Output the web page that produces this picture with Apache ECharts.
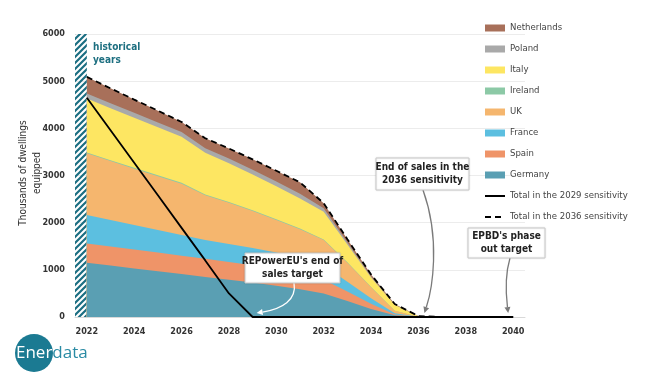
<!DOCTYPE html>
<html><head><meta charset="utf-8">
<script src="https://cdn.jsdelivr.net/npm/echarts@6/dist/echarts.min.js"></script>
<style>html,body{margin:0;padding:0;background:#fff}#c{width:650px;height:376px}</style>
</head><body><div id="c"></div>
<script>
const years = [2022,2023,2024,2025,2026,2027,2028,2029,2030,2031,2032,2033,2034,2035,2036,2037,2038,2039,2040];
const xTickLabels = [2022,2024,2026,2028,2030,2032,2034,2036,2038,2040];
const germany     = [1150,1090,1030,970,910,850,790,730,660,590,500,340,170,35,0,0,0,0,0];
const spain       = [410,405,400,395,390,385,375,365,350,330,290,200,110,20,0,0,0,0,0];
const france      = [600,560,520,480,440,400,385,370,355,340,300,210,120,25,3,0,0,0,0];
const uk          = [1310,1250,1195,1140,1085,945,870,780,690,600,540,400,230,50,3,0,0,0,0];
const ireland     = [20,20,20,20,20,18,18,17,16,15,14,10,6,2,0,0,0,0,0];
const italy       = [1140,1100,1058,1016,975,882,820,760,700,640,590,375,199,120,10,0,0,0,0];
const poland      = [110,108,106,104,100,100,100,100,100,100,70,45,25,8,2,0,0,0,0];
const netherlands = [350,315,280,250,215,210,215,220,230,240,110,70,40,15,2,0,0,0,0];
const total2029   = [4650,3960,3270,2580,1890,1200,500,0,0,0,0,0,0,0,0,0,0,0,0];
const total2036   = [5090,4848,4609,4375,4135,3790,3573,3342,3101,2855,2414,1650,900,275,20,0,0,0,0];

const FONT = '"Liberation Sans Narrow","DejaVu Sans Condensed","Liberation Sans",sans-serif';
const chart = echarts.init(document.getElementById('c'), null, {renderer:'canvas'});

function hatch(){
  const c=document.createElement('canvas'); c.width=6; c.height=6;
  const g=c.getContext('2d'); g.strokeStyle='#1b6e82'; g.lineWidth=2.2; g.beginPath();
  g.moveTo(0,6); g.lineTo(6,0); g.moveTo(-1,1); g.lineTo(1,-1); g.moveTo(5,7); g.lineTo(7,5); g.stroke();
  return c;
}
// layers from bottom to top; each area is filled from 0 up to its cumulative top,
// drawn top layer first so the lower ones cover it
const layers = [
  {name:'Germany', values:germany, color:'#5a9fb3'},
  {name:'Spain', values:spain, color:'#ef9468'},
  {name:'France', values:france, color:'#5cbfe0'},
  {name:'UK', values:uk, color:'#f5b66e'},
  {name:'Ireland', values:ireland, color:'#8cc9a6'},
  {name:'Italy', values:italy, color:'#fde662'},
  {name:'Poland', values:poland, color:'#a9a9a9'},
  {name:'Netherlands', values:netherlands, color:'#a8705a'}
];
let running = years.map(()=>0);
layers.forEach(l=>{ running = running.map((v,i)=>v+l.values[i]); l.cum = running.slice(); });

const areaSeries = layers.slice().reverse().map((l,k)=>({
  name:l.name, type:'line', data:years.map((y,i)=>[y,l.cum[i]]), symbol:'none', silent:true,
  lineStyle:{width:0}, itemStyle:{color:l.color}, areaStyle:{color:l.color, opacity:1},
  emphasis:{disabled:true}, z:2
}));
areaSeries[areaSeries.length-1].markArea = {silent:true, itemStyle:{color:{image:hatch(), repeat:'repeat'}},
  data:[[{xAxis:2021.5, yAxis:0},{xAxis:2022, yAxis:6000}]]};

const legendNames = ['Netherlands','Poland','Italy','Ireland','UK','France','Spain','Germany'];

chart.setOption({
  animation:false,
  grid:{left:75, right:125, top:34, bottom:59},
  legend:{
    orient:'vertical', left:479, top:17, itemWidth:20, itemHeight:7, itemGap:9,
    textStyle:{fontFamily:FONT, fontSize:9.5, color:'#444', lineHeight:12},
    data: legendNames.map(n=>({name:n, icon:'rect'})).concat([
      {name:'Total in the 2029 sensitivity', itemStyle:{opacity:0}},
      {name:'Total in the 2036 sensitivity', itemStyle:{opacity:0}}]),
    selectedMode:false
  },
  xAxis:{type:'value', min:2021.5, max:2040.5,
    axisLine:{show:true, lineStyle:{color:'#d9d9d9'}}, axisTick:{show:false}, splitLine:{show:false},
    axisLabel:{customValues:xTickLabels, formatter:v=>String(v), fontFamily:FONT, fontWeight:'bold', fontSize:9, color:'#333', margin:10}},
  yAxis:{type:'value', min:0, max:6000, interval:1000,
    axisLine:{show:false}, axisTick:{show:false},
    splitLine:{lineStyle:{color:'#ececec'}},
    axisLabel:{formatter:v=>String(v), fontFamily:FONT, fontWeight:'bold', fontSize:9, color:'#333', margin:10}},
  series: areaSeries.concat([
    {name:'Total in the 2029 sensitivity', type:'line', data:years.map((y,i)=>[y,total2029[i]]), symbol:'none', silent:true,
      lineStyle:{color:'#000', width:1.8}, itemStyle:{color:'#000'}, z:5},
    {name:'Total in the 2036 sensitivity', type:'line', data:years.map((y,i)=>[y,total2036[i]]), symbol:'none', silent:true,
      lineStyle:{color:'#000', width:1.8, type:[6,4]}, itemStyle:{color:'#000'}, z:5}
  ])
});

function arrow(s,c1,c2,e,color){
  const dx=e[0]-c2[0], dy=e[1]-c2[1], L=Math.hypot(dx,dy)||1, ux=dx/L, uy=dy/L, size=6, w=3;
  const b=[e[0]-ux*size, e[1]-uy*size];
  return [
    {type:'bezierCurve', silent:true, z:20, shape:{x1:s[0],y1:s[1],cpx1:c1[0],cpy1:c1[1],cpx2:c2[0],cpy2:c2[1],x2:b[0],y2:b[1]}, style:{stroke:color, lineWidth:1.3, fill:null}},
    {type:'polygon', silent:true, z:20, shape:{points:[e,[b[0]-uy*w,b[1]+ux*w],[b[0]+uy*w,b[1]-ux*w]]}, style:{fill:color}}
  ];
}
function box(x,y,w,h,text){
  return [
    {type:'rect', silent:true, z:21, shape:{x,y,width:w,height:h}, style:{fill:'#fff', stroke:'#c9c9c9', lineWidth:1, shadowBlur:2, shadowColor:'rgba(0,0,0,0.12)'}},
    {type:'text', silent:true, z:22, x:x+w/2, y:y+h/2, style:{text, align:'center', verticalAlign:'middle', font:'bold 10px '+FONT, fill:'#222', lineHeight:13}}
  ];
}
const p = (x,y)=>chart.convertToPixel({gridIndex:0},[x,y]);
const t1=p(2029,0), t2=p(2036,0), t3=p(2040,0);
const e1=[t1[0]+4,t1[1]-4], e2=[t2[0]+6,t2[1]-4], e3=[t3[0]-5,t3[1]-4];
let g = [];
g = g.concat(arrow([294,283],[297,300],[282,309],e1,'#ffffff'));
g = g.concat(arrow([423,190],[441,240],[432,290],e2,'#7a7a7a'));
g = g.concat(arrow([510,258],[505,275],[506,295],e3,'#7a7a7a'));
g = g.concat(box(245,253,95,30,"REPowerEU's end of\nsales target"));
g = g.concat(box(376,158,93,32,"End of sales in the\n2036 sensitivity"));
g = g.concat(box(468,228,77,30,"EPBD's phase\nout target"));
g.push({type:'text', silent:true, z:10, x:93, y:41, style:{text:'historical\nyears', font:'bold 10px '+FONT, fill:'#1d6f80', lineHeight:13}});
g.push({type:'text', silent:true, z:10, x:30, y:173, rotation:Math.PI/2, style:{text:'Thousands of dwellings\nequipped', align:'center', verticalAlign:'middle', font:'10px '+FONT, fill:'#333', lineHeight:14}});
g.push({type:'circle', silent:true, shape:{cx:34, cy:353, r:19}, style:{fill:'#1b7a92'}});
g.push({type:'text', silent:true, x:16, y:353, style:{text:'{a|Ener}{b|data}', verticalAlign:'middle', rich:{a:{fill:'#fff', font:'17px "Open Sans",sans-serif'}, b:{fill:'#2a8ba4', font:'17px "Open Sans",sans-serif'}}}});
chart.setOption({graphic:g});
</script></body></html>
